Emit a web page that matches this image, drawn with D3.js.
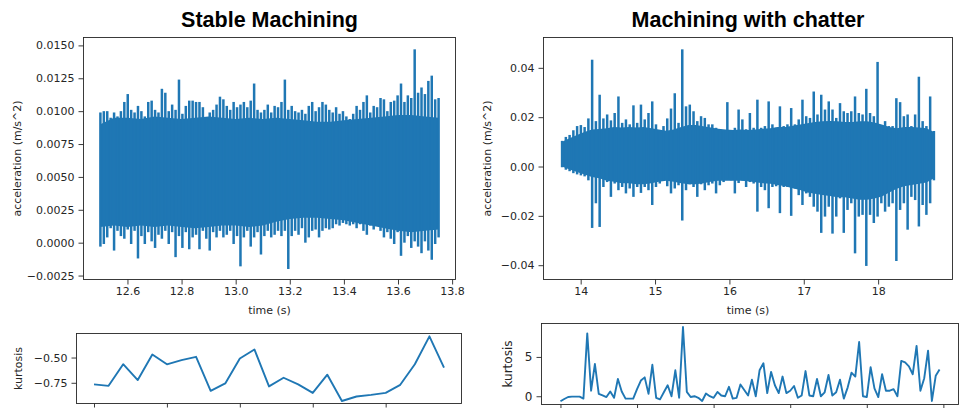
<!DOCTYPE html>
<html>
<head>
<meta charset="utf-8">
<script src="https://cdn.jsdelivr.net/npm/d3@7"></script>
<style>
  body { margin: 0; background: #fff; }
  svg { display: block; }
</style>
</head>
<body>
<svg id="chart"></svg>
<script>
// ---- data ----

// stable machining: per-bin max / min of the acceleration signal, 100 bins over 12.5 .. 13.75 s
const stableHi = [
  0.0099, 0.0100, 0.0100, 0.0095, 0.0099, 0.0096, 0.0100, 0.0107, 0.0113, 0.0101,
  0.0099, 0.0104, 0.0100, 0.0096, 0.0107, 0.0108, 0.0101, 0.0099, 0.0117, 0.0114,
  0.0100, 0.0105, 0.0101, 0.0124, 0.0098, 0.0104, 0.0108, 0.0108, 0.0107, 0.0107,
  0.0103, 0.0095, 0.0099, 0.0101, 0.0105, 0.0111, 0.0109, 0.0104, 0.0101, 0.0107,
  0.0103, 0.0105, 0.0107, 0.0103, 0.0108, 0.0121, 0.0101, 0.0099, 0.0101, 0.0105,
  0.0099, 0.0104, 0.0103, 0.0107, 0.0124, 0.0101, 0.0104, 0.0100, 0.0099, 0.0101,
  0.0098, 0.0104, 0.0107, 0.0100, 0.0103, 0.0107, 0.0105, 0.0101, 0.0099, 0.0103,
  0.0098, 0.0100, 0.0096, 0.0094, 0.0098, 0.0104, 0.0101, 0.0107, 0.0112, 0.0099,
  0.0104, 0.0103, 0.0110, 0.0109, 0.0100, 0.0107, 0.0108, 0.0112, 0.0121, 0.0107,
  0.0112, 0.0110, 0.0147, 0.0114, 0.0118, 0.0113, 0.0123, 0.0127, 0.0109, 0.0110
]
const stableLo = [
  -0.0003, -0.0001, 0.0004, 0.0011, -0.0006, 0.0009, 0.0005, 0.0003, 0.0010, -0.0001,
  0.0009, -0.0012, 0.0005, -0.0001, 0.0008, 0.0001, -0.0004, 0.0006, 0.0003, 0.0009,
  -0.0001, 0.0008, -0.0011, 0.0005, -0.0004, 0.0008, -0.0005, 0.0004, 0.0006, -0.0005,
  0.0009, 0.0003, -0.0006, 0.0008, 0.0004, 0.0009, 0.0004, 0.0006, 0.0009, -0.0001,
  0.0005, -0.0018, 0.0004, 0.0009, -0.0003, 0.0004, 0.0008, -0.0009, 0.0005, 0.0009,
  0.0004, 0.0006, 0.0009, 0.0005, 0.0009, -0.0020, 0.0005, 0.0009, 0.0006, 0.0011,
  0.0000, 0.0004, 0.0009, 0.0010, 0.0004, 0.0009, 0.0011, 0.0010, 0.0011, 0.0014,
  0.0013, 0.0015, 0.0014, 0.0013, 0.0014, 0.0011, 0.0014, 0.0009, 0.0006, 0.0013,
  0.0010, 0.0013, 0.0009, 0.0004, 0.0008, 0.0003, -0.0001, 0.0008, -0.0010, 0.0000,
  0.0005, -0.0004, 0.0001, -0.0003, -0.0008, 0.0001, -0.0006, -0.0013, -0.0001, 0.0004
]
// solid core of the stable band, every 0.05 s
const stableCoreHi = [
  0.0090, 0.0095, 0.0095, 0.0094, 0.0096, 0.0095, 0.0094, 0.0095, 0.0096, 0.0095,
  0.0094, 0.0095, 0.0094, 0.0095, 0.0094, 0.0093, 0.0092, 0.0092, 0.0093, 0.0094,
  0.0095, 0.0096, 0.0097, 0.0097, 0.0096, 0.0095
]
const stableCoreLo = [
  0.0012, 0.0013, 0.0012, 0.0013, 0.0012, 0.0013, 0.0012, 0.0011, 0.0012, 0.0013,
  0.0013, 0.0012, 0.0013, 0.0016, 0.0018, 0.0019, 0.0019, 0.0018, 0.0017, 0.0015,
  0.0013, 0.0011, 0.0009, 0.0008, 0.0009, 0.0010
]

// machining with chatter: per-bin max / min, 100 bins over 13.75 .. 18.75 s
const chatterHi = [
  0.0104, 0.0120, 0.0128, 0.0147, 0.0164, 0.0168, 0.0160, 0.0195, 0.0433, 0.0184,
  0.0291, 0.0195, 0.0211, 0.0187, 0.0217, 0.0284, 0.0177, 0.0191, 0.0171, 0.0248,
  0.0177, 0.0251, 0.0191, 0.0217, 0.0264, 0.0171, 0.0144, 0.0164, 0.0195, 0.0235,
  0.0297, 0.0177, 0.0475, 0.0244, 0.0251, 0.0224, 0.0184, 0.0204, 0.0197, 0.0171,
  0.0171, 0.0157, 0.0151, 0.0144, 0.0261, 0.0144, 0.0157, 0.0231, 0.0191, 0.0151,
  0.0217, 0.0157, 0.0271, 0.0157, 0.0164, 0.0264, 0.0171, 0.0157, 0.0244, 0.0164,
  0.0171, 0.0237, 0.0171, 0.0191, 0.0271, 0.0204, 0.0197, 0.0304, 0.0211, 0.0291,
  0.0231, 0.0264, 0.0231, 0.0197, 0.0257, 0.0224, 0.0217, 0.0224, 0.0284, 0.0217,
  0.0211, 0.0315, 0.0217, 0.0204, 0.0424, 0.0164, 0.0184, 0.0164, 0.0164, 0.0277,
  0.0261, 0.0204, 0.0211, 0.0164, 0.0211, 0.0364, 0.0184, 0.0164, 0.0284, 0.0144
]
const chatterLo = [
  -0.0003, -0.0013, -0.0019, -0.0027, -0.0032, -0.0036, -0.0040, -0.0056, -0.0249, -0.0149,
  -0.0245, -0.0083, -0.0063, -0.0123, -0.0069, -0.0096, -0.0083, -0.0109, -0.0089, -0.0123,
  -0.0083, -0.0107, -0.0083, -0.0096, -0.0156, -0.0083, -0.0069, -0.0056, -0.0080, -0.0109,
  -0.0089, -0.0076, -0.0219, -0.0096, -0.0072, -0.0083, -0.0123, -0.0072, -0.0096, -0.0076,
  -0.0069, -0.0109, -0.0076, -0.0063, -0.0049, -0.0056, -0.0109, -0.0067, -0.0056, -0.0083,
  -0.0063, -0.0069, -0.0183, -0.0083, -0.0096, -0.0169, -0.0083, -0.0080, -0.0189, -0.0083,
  -0.0083, -0.0200, -0.0089, -0.0116, -0.0156, -0.0109, -0.0123, -0.0163, -0.0183, -0.0269,
  -0.0203, -0.0163, -0.0272, -0.0203, -0.0129, -0.0269, -0.0176, -0.0149, -0.0352, -0.0203,
  -0.0196, -0.0403, -0.0196, -0.0229, -0.0203, -0.0149, -0.0183, -0.0163, -0.0149, -0.0383,
  -0.0176, -0.0149, -0.0256, -0.0123, -0.0136, -0.0243, -0.0156, -0.0196, -0.0149, -0.0056
]
// solid core of the chatter band, every 0.1 s
const chatterCoreHi = [
  0.0100, 0.0115, 0.0128, 0.0140, 0.0150, 0.0152, 0.0155, 0.0160, 0.0158, 0.0160,
  0.0158, 0.0160, 0.0155, 0.0150, 0.0145, 0.0150, 0.0160, 0.0168, 0.0168, 0.0163,
  0.0158, 0.0153, 0.0150, 0.0148, 0.0150, 0.0148, 0.0150, 0.0153, 0.0155, 0.0160,
  0.0160, 0.0165, 0.0170, 0.0175, 0.0180, 0.0183, 0.0185, 0.0183, 0.0180, 0.0180,
  0.0183, 0.0183, 0.0178, 0.0170, 0.0160, 0.0155, 0.0160, 0.0160, 0.0158, 0.0155,
  0.0140
]
const chatterCoreLo = [
  0.0000, -0.0012, -0.0022, -0.0032, -0.0042, -0.0048, -0.0058, -0.0062, -0.0068, -0.0068,
  -0.0072, -0.0072, -0.0068, -0.0062, -0.0058, -0.0062, -0.0068, -0.0072, -0.0072, -0.0068,
  -0.0062, -0.0058, -0.0058, -0.0058, -0.0058, -0.0060, -0.0064, -0.0068, -0.0070, -0.0075,
  -0.0080, -0.0088, -0.0095, -0.0105, -0.0110, -0.0115, -0.0120, -0.0125, -0.0125, -0.0130,
  -0.0135, -0.0135, -0.0130, -0.0122, -0.0105, -0.0090, -0.0080, -0.0075, -0.0070, -0.0065,
  -0.0048
]

// kurtosis per window
const stableKurtosis = [
  -0.766, -0.78, -0.566, -0.723, -0.47, -0.567, -0.525, -0.493, -0.83, -0.756,
  -0.51, -0.42, -0.786, -0.70, -0.766, -0.85, -0.67, -0.93, -0.886, -0.87,
  -0.85, -0.77, -0.566, -0.29, -0.60
]
const chatterKurtosis = [
  -0.64, -0.35, -0.1, -0.05, -0.05, -0.05, -0.3, 8.0, 0.7, 4.1,
  0.3, 0.1, -0.1, 0.6, -0.2, 2.2, 0.6, -0.3, -0.3, -0.3,
  0.9, 2.0, 2.4, 0.3, 4.0, -0.2, -0.4, 0.5, 1.4, 0.0,
  3.3, -0.2, 8.8, 0.55, -0.1, 0.0, -0.2, -0.6, 0.35, 0.0,
  -0.2, 0.55, 0.1, 0.0, 1.2, -0.3, -0.2, 1.5, 0.8, 0.1,
  2.1, 0.0, 3.3, 4.2, 0.4, 3.1, 1.4, 0.4, 2.5, 0.4,
  0.7, 1.3, -0.2, 0.1, 3.2, 0.1, 0.0, 2.2, 0.0, 0.5,
  2.7, 0.1, 0.5, 2.1, -0.3, 1.1, 3.0, 2.5, 6.9, 0.0,
  -0.1, 3.7, 1.0, -0.1, 2.8, 0.7, 0.7, 0.9, 0.0, 4.5,
  4.3, 3.8, 2.8, 6.4, 0.7, 2.3, 5.8, -0.6, 2.6, 3.4
]

// ticks
const stableTimeTicks = [12.6, 12.8, 13.0, 13.2, 13.4, 13.6, 13.8]
const stableAccTicks = [-0.0025, 0, 0.0025, 0.005, 0.0075, 0.01, 0.0125, 0.015]
const chatterTimeTicks = [14, 15, 16, 17, 18]
const chatterAccTicks = [-0.04, -0.02, 0, 0.02, 0.04]
const stableKurtTicks = [-0.75, -0.5]
const chatterKurtTicks = [0, 5]

const titles = ['Stable Machining', 'Machining with chatter']

// ---- drawing ----
const blue = '#1f77b4'
const ink = '#262626'

const svg = d3.select('#chart')
  .attr('width', 960)
  .attr('height', 408)

function timeRange(t0, t1, n) {
  return d3.range(n).map(i => t0 + (t1 - t0) * i / (n - 1))
}

function styleAxis(g, size) {
  g.select('.domain').remove()
  g.selectAll('line').attr('stroke', ink).attr('stroke-width', 0.9)
  g.selectAll('text')
    .attr('fill', ink)
    .style('font-family', '"DejaVu Sans", sans-serif')
    .style('font-size', size + 'px')
}

function frame(b) {
  svg.append('rect')
    .attr('x', b.left).attr('y', b.top)
    .attr('width', b.right - b.left).attr('height', b.bottom - b.top)
    .attr('fill', 'none').attr('stroke', ink).attr('stroke-width', 0.9)
}

function drawSignal(c) {
  const x = d3.scaleLinear().domain(c.xDomain).range([c.left, c.right])
  const y = d3.scaleLinear().domain(c.yDomain).range([c.bottom, c.top])

  const coreT = timeRange(c.t0, c.t1, c.coreHi.length)
  const binT = timeRange(c.t0, c.t1, c.hi.length)

  const g = svg.append('g')

  g.append('path')
    .attr('d', d3.area()
      .x((d) => x(d))
      .y0((d, i) => y(c.coreLo[i]))
      .y1((d, i) => y(c.coreHi[i]))(coreT))
    .attr('fill', blue)

  // one vertical stroke per bin, min to max
  g.selectAll('line')
    .data(binT)
    .join('line')
    .attr('x1', d => x(d))
    .attr('x2', d => x(d))
    .attr('y1', (d, i) => y(c.lo[i]))
    .attr('y2', (d, i) => y(c.hi[i]))
    .attr('stroke', blue)
    .attr('stroke-width', 2.5)

  // axes
  const xAxis = svg.append('g')
    .attr('transform', `translate(0, ${c.bottom})`)
    .call(d3.axisBottom(x).tickValues(c.xTicks).tickFormat(c.xFmt).tickSize(5).tickPadding(3))
  styleAxis(xAxis, c.font)

  const yAxis = svg.append('g')
    .attr('transform', `translate(${c.left}, 0)`)
    .call(d3.axisLeft(y).tickValues(c.yTicks).tickFormat(c.yFmt).tickSize(5).tickPadding(4))
  styleAxis(yAxis, c.font)

  frame(c)

  svg.append('text')
    .attr('x', (c.left + c.right) / 2)
    .attr('y', c.bottom + 34)
    .attr('text-anchor', 'middle')
    .attr('fill', ink)
    .style('font-family', '"DejaVu Sans", sans-serif')
    .style('font-size', c.font + 'px')
    .text('time (s)')

  svg.append('text')
    .attr('transform', `translate(${c.labelX}, ${(c.top + c.bottom) / 2}) rotate(-90)`)
    .attr('text-anchor', 'middle')
    .attr('fill', ink)
    .style('font-family', '"DejaVu Sans", sans-serif')
    .style('font-size', c.font + 'px')
    .text('acceleration (m/s^2)')

  svg.append('text')
    .attr('x', (c.left + c.right) / 2)
    .attr('y', 27)
    .attr('text-anchor', 'middle')
    .attr('fill', '#000')
    .style('font-family', '"Liberation Sans", Arial, sans-serif')
    .style('font-weight', 'bold')
    .style('font-size', '21.5px')
    .text(c.title)
}

function drawKurtosis(c) {
  const n = c.values.length
  const pad = (n - 1) * 0.05
  const x = d3.scaleLinear().domain([-pad, n - 1 + pad]).range([c.left, c.right])
  const y = d3.scaleLinear().domain(c.yDomain).range([c.bottom, c.top])

  svg.append('path')
    .datum(c.values)
    .attr('d', d3.line().x((d, i) => x(i)).y(d => y(d)))
    .attr('fill', 'none')
    .attr('stroke', blue)
    .attr('stroke-width', 1.9)
    .attr('stroke-linejoin', 'round')

  const xAxis = svg.append('g')
    .attr('transform', `translate(0, ${c.bottom})`)
    .call(d3.axisBottom(x).tickValues(c.xTicks).tickFormat('').tickSize(4))
  styleAxis(xAxis, c.font)

  const yAxis = svg.append('g')
    .attr('transform', `translate(${c.left}, 0)`)
    .call(d3.axisLeft(y).tickValues(c.yTicks).tickFormat(c.yFmt).tickSize(5).tickPadding(4))
  styleAxis(yAxis, c.font)

  frame(c)

  svg.append('text')
    .attr('transform', `translate(${c.labelX}, ${(c.top + c.bottom) / 2}) rotate(-90)`)
    .attr('text-anchor', 'middle')
    .attr('fill', ink)
    .style('font-family', '"DejaVu Sans", sans-serif')
    .style('font-size', c.font + 'px')
    .text('kurtosis')
}

drawSignal({
  title: titles[0],
  left: 83.5, right: 455.5, top: 37.5, bottom: 279.5, labelX: 21,
  t0: 12.5, t1: 13.75, xDomain: [12.4375, 13.8125], yDomain: [-0.0028, 0.0156],
  hi: stableHi, lo: stableLo, coreHi: stableCoreHi, coreLo: stableCoreLo,
  xTicks: stableTimeTicks, xFmt: d3.format('.1f'),
  yTicks: stableAccTicks, yFmt: d3.format('.4f'),
  font: 11
})

drawSignal({
  title: titles[1],
  left: 543.5, right: 952.5, top: 37.5, bottom: 279.5, labelX: 491,
  t0: 13.75, t1: 18.75, xDomain: [13.5, 19.0], yDomain: [-0.0458, 0.0523],
  hi: chatterHi, lo: chatterLo, coreHi: chatterCoreHi, coreLo: chatterCoreLo,
  xTicks: chatterTimeTicks, xFmt: d3.format('d'),
  yTicks: chatterAccTicks, yFmt: d3.format('.2f'),
  font: 11
})

drawKurtosis({
  left: 76.5, right: 461.5, top: 333.5, bottom: 403.5, labelX: 22,
  values: stableKurtosis, yDomain: [-0.955, -0.262],
  xTicks: [0, 5, 10, 15, 20], yTicks: stableKurtTicks, yFmt: d3.format('.2f'),
  font: 11
})

drawKurtosis({
  left: 541.5, right: 958.5, top: 323.5, bottom: 404.5, labelX: 512,
  values: chatterKurtosis, yDomain: [-1.05, 9.25],
  xTicks: [0, 20, 40, 60, 80, 100], yTicks: chatterKurtTicks, yFmt: d3.format('d'),
  font: 12
})
</script>
</body>
</html>
